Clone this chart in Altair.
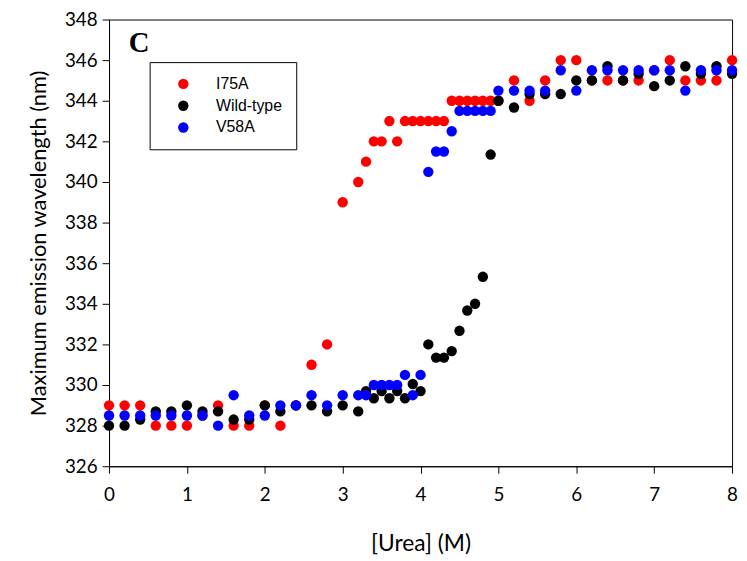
import altair as alt
import pandas as pd

series_names = ["I75A", "Wild-type", "V58A"]
series_colors = ["#ff0000", "#000000", "#0000ff"]

urea_i75a = [0, 0.2, 0.4, 0.6, 0.8, 1.0, 1.2, 1.4, 1.6, 1.8, 2.0, 2.2, 2.4, 2.6, 2.8,
             3.0, 3.2, 3.3, 3.4, 3.5, 3.6, 3.7, 3.8, 3.9, 4.0, 4.1, 4.2, 4.3,
             4.4, 4.5, 4.6, 4.7, 4.8, 4.9, 5.0, 5.2, 5.4, 5.6, 5.8, 6.0, 6.2,
             6.4, 6.6, 6.8, 7.0, 7.2, 7.4, 7.6, 7.8, 8.0]
wl_i75a = [329, 329, 329, 328, 328, 328, 328.5, 329, 328, 328, 329, 328, 329, 331, 332,
           339, 340, 341, 342, 342, 343, 342, 343, 343, 343, 343, 343, 343,
           344, 344, 344, 344, 344, 344, 344, 345, 344, 345, 346, 346, 345,
           345, 345, 345, 345.5, 346, 345, 345, 345, 346]

urea_wt = [0, 0.2, 0.4, 0.6, 0.8, 1.0, 1.2, 1.4, 1.6, 1.8, 2.0, 2.2, 2.4, 2.6, 2.8,
           3.0, 3.2, 3.3, 3.4, 3.5, 3.6, 3.7, 3.8, 3.9, 4.0, 4.1, 4.2, 4.3,
           4.4, 4.5, 4.6, 4.7, 4.8, 4.9, 5.0, 5.2, 5.4, 5.6, 5.8, 6.0, 6.2,
           6.4, 6.6, 6.8, 7.0, 7.2, 7.4, 7.6, 7.8, 8.0]
wl_wt = [328, 328, 328.3, 328.7, 328.7, 329, 328.7, 328.7, 328.3, 328.3, 329, 328.7, 329, 329, 328.7,
         329, 328.7, 329.7, 329.35, 329.7, 329.35, 329.7, 329.35, 330.05, 329.7, 332, 331.35, 331.35,
         331.67, 332.67, 333.67, 334.0, 335.33, 341.35, 344, 343.67, 344.33, 344.33, 344.33, 345, 345,
         345.7, 345, 345.33, 344.72, 345, 345.7, 345.33, 345.7, 345.33]

urea_v58a = [0, 0.2, 0.4, 0.6, 0.8, 1.0, 1.2, 1.4, 1.6, 1.8, 2.0, 2.2, 2.4, 2.6, 2.8,
             3.0, 3.2, 3.3, 3.4, 3.5, 3.6, 3.7, 3.8, 3.9, 4.0, 4.1, 4.2, 4.3,
             4.4, 4.5, 4.6, 4.7, 4.8, 4.9, 5.0, 5.2, 5.4, 5.6, 5.8, 6.0, 6.2,
             6.4, 6.6, 6.8, 7.0, 7.2, 7.4, 7.6, 7.8, 8.0]
wl_v58a = [328.5, 328.5, 328.5, 328.5, 328.5, 328.5, 328.5, 328, 329.5, 328.5, 328.5, 329, 329, 329.5, 329,
           329.5, 329.5, 329.5, 330, 330, 330, 330, 330.5, 329.5, 330.5, 340.5, 341.5, 341.5,
           342.5, 343.5, 343.5, 343.5, 343.5, 343.5, 344.5, 344.5, 344.5, 344.5, 345.5, 344.5, 345.5,
           345.5, 345.5, 345.5, 345.5, 345.5, 344.5, 345.5, 345.5, 345.5]

x_ticks = [0, 1, 2, 3, 4, 5, 6, 7, 8]
y_ticks = [326, 328, 330, 332, 334, 336, 338, 340, 342, 344, 346, 348]

rows = []
for z, (name, xs, ys) in enumerate([
    ("I75A", urea_i75a, wl_i75a),
    ("Wild-type", urea_wt, wl_wt),
    ("V58A", urea_v58a, wl_v58a),
]):
    for x, y in zip(xs, ys):
        rows.append({"urea": x, "wl": y, "series": name, "z": z})
df = pd.DataFrame(rows)

points = alt.Chart(df).mark_circle(size=110, opacity=1).encode(
    x=alt.X("urea:Q", scale=alt.Scale(domain=[0, 8], nice=False),
            axis=alt.Axis(values=x_ticks, title="[Urea] (M)", format="d",
                          labelFlush=False, labelPadding=13, titlePadding=28,
                          titleFontSize=23)),
    y=alt.Y("wl:Q", scale=alt.Scale(domain=[326, 348], nice=False, zero=False),
            axis=alt.Axis(values=y_ticks, title="Maximum emission wavelength (nm)",
                          labelPadding=5, titlePadding=14)),
    color=alt.Color("series:N",
                    scale=alt.Scale(domain=series_names, range=series_colors),
                    legend=alt.Legend(title=None, orient="none", legendX=41, legendY=43,
                                      strokeColor="black", padding=14, symbolOffset=12,
                                      labelOffset=25, rowPadding=6, symbolType="circle",
                                      symbolSize=110, labelFontSize=16,
                                      labelFont="Liberation Sans", labelColor="black")),
    order=alt.Order("z:Q"),
)

label = alt.Chart(pd.DataFrame({"t": ["C"]})).mark_text(
    font="Liberation Serif", fontWeight="bold", fontSize=29, align="left",
    baseline="alphabetic", color="black"
).encode(text="t:N", x=alt.value(20), y=alt.value(33))

chart = alt.layer(points, label).properties(
    width=629, height=451,
    padding={"left": 102, "top": 9, "right": 7, "bottom": 92},
    autosize=alt.AutoSizeParams(type="none"),
).configure_view(stroke="black", strokeWidth=1).configure_axis(
    grid=False, domainColor="black", tickColor="black", tickSize=7,
    labelFont="Lato", labelFontSize=19, labelColor="black",
    titleFont="Lato", titleFontSize=22, titleFontWeight="normal", titleColor="black",
)

chart.save("out.html", embed_options={"renderer": "svg", "actions": False})
